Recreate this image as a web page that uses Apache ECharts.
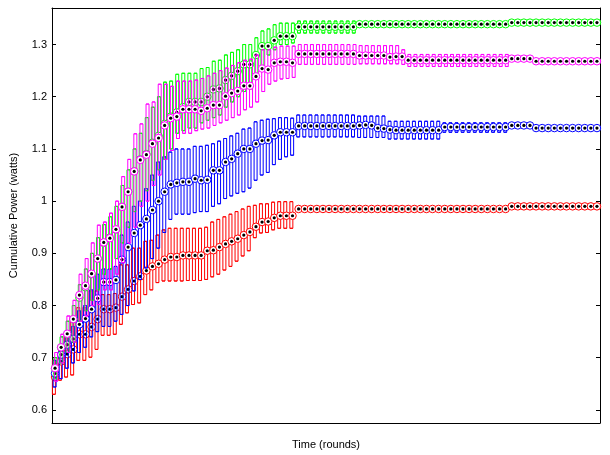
<!DOCTYPE html>
<html>
<head>
<meta charset="utf-8">
<script src="https://cdn.jsdelivr.net/npm/echarts@6/dist/echarts.min.js"></script>
<style>
  html, body { margin: 0; padding: 0; background: #fff; }
  #chart { width: 610px; height: 455px; }
</style>
</head>
<body>
<div id="chart"></div>
<script>
// Cumulative power per round: lower quartile, median, upper quartile for each of four runs.
const redQ1 = [
  0.630, 0.657, 0.663, 0.667, 0.695, 0.695, 0.701, 0.716, 0.743, 0.743,
  0.745, 0.764, 0.786, 0.802, 0.805, 0.821, 0.830, 0.844, 0.847, 0.847,
  0.847, 0.847, 0.848, 0.848, 0.848, 0.850, 0.855, 0.860, 0.868, 0.875,
  0.885, 0.895, 0.905, 0.930, 0.939, 0.940, 0.945, 0.948, 0.948, 0.948,
  0.985, 0.985, 0.985, 0.985, 0.985, 0.985, 0.985, 0.985, 0.985, 0.985,
  0.985, 0.985, 0.985, 0.985, 0.985, 0.985, 0.985, 0.985, 0.985, 0.985,
  0.985, 0.985, 0.985, 0.985, 0.985, 0.985, 0.985, 0.985, 0.985, 0.985,
  0.985, 0.985, 0.985, 0.985, 0.985, 0.990, 0.990, 0.990, 0.990, 0.990,
  0.990, 0.990, 0.990, 0.990, 0.990, 0.990, 0.990, 0.990, 0.990, 0.990
];
const redMed = [
  0.663, 0.693, 0.707, 0.716, 0.745, 0.745, 0.759, 0.774, 0.793, 0.793,
  0.796, 0.817, 0.831, 0.847, 0.856, 0.867, 0.875, 0.880, 0.888, 0.893,
  0.893, 0.896, 0.896, 0.896, 0.896, 0.905, 0.906, 0.912, 0.918, 0.923,
  0.928, 0.935, 0.941, 0.951, 0.960, 0.961, 0.968, 0.972, 0.972, 0.972,
  0.985, 0.985, 0.985, 0.985, 0.985, 0.985, 0.985, 0.985, 0.985, 0.985,
  0.985, 0.985, 0.985, 0.985, 0.985, 0.985, 0.985, 0.985, 0.985, 0.985,
  0.985, 0.985, 0.985, 0.985, 0.985, 0.985, 0.985, 0.985, 0.985, 0.985,
  0.985, 0.985, 0.985, 0.985, 0.985, 0.990, 0.990, 0.990, 0.990, 0.990,
  0.990, 0.990, 0.990, 0.990, 0.990, 0.990, 0.990, 0.990, 0.990, 0.990
];
const redQ3 = [
  0.695, 0.720, 0.745, 0.771, 0.796, 0.796, 0.828, 0.828, 0.821, 0.821,
  0.823, 0.878, 0.878, 0.910, 0.910, 0.923, 0.925, 0.935, 0.945, 0.948,
  0.948, 0.948, 0.948, 0.948, 0.948, 0.950, 0.960, 0.965, 0.970, 0.975,
  0.980, 0.985, 0.990, 0.992, 0.995, 0.995, 0.998, 0.999, 0.999, 0.999,
  0.985, 0.985, 0.985, 0.985, 0.985, 0.985, 0.985, 0.985, 0.985, 0.985,
  0.985, 0.985, 0.985, 0.985, 0.985, 0.985, 0.985, 0.985, 0.985, 0.985,
  0.985, 0.985, 0.985, 0.985, 0.985, 0.985, 0.985, 0.985, 0.985, 0.985,
  0.985, 0.985, 0.985, 0.985, 0.985, 0.990, 0.990, 0.990, 0.990, 0.990,
  0.990, 0.990, 0.990, 0.990, 0.990, 0.990, 0.990, 0.990, 0.990, 0.990
];

const blueQ1 = [
  0.644, 0.660, 0.680, 0.690, 0.710, 0.720, 0.740, 0.750, 0.760, 0.760,
  0.770, 0.783, 0.800, 0.828, 0.850, 0.872, 0.890, 0.910, 0.940, 0.965,
  0.975, 0.975, 0.975, 0.978, 0.980, 0.980, 0.990, 0.995, 1.005, 1.010,
  1.015, 1.018, 1.025, 1.040, 1.050, 1.055, 1.070, 1.080, 1.085, 1.088,
  1.123, 1.123, 1.123, 1.123, 1.123, 1.123, 1.123, 1.123, 1.123, 1.123,
  1.122, 1.122, 1.122, 1.122, 1.122, 1.119, 1.119, 1.119, 1.119, 1.119,
  1.119, 1.119, 1.119, 1.119, 1.132, 1.132, 1.132, 1.132, 1.132, 1.132,
  1.132, 1.132, 1.132, 1.132, 1.132, 1.145, 1.145, 1.145, 1.145, 1.140,
  1.140, 1.140, 1.140, 1.140, 1.140, 1.140, 1.140, 1.140, 1.140, 1.140
];
const blueMed = [
  0.670, 0.706, 0.725, 0.736, 0.764, 0.775, 0.793, 0.814, 0.845, 0.845,
  0.849, 0.888, 0.912, 0.939, 0.954, 0.966, 0.983, 1.000, 1.018, 1.032,
  1.035, 1.037, 1.037, 1.043, 1.040, 1.041, 1.059, 1.059, 1.075, 1.081,
  1.091, 1.100, 1.100, 1.110, 1.116, 1.117, 1.126, 1.132, 1.132, 1.132,
  1.144, 1.144, 1.144, 1.144, 1.144, 1.144, 1.144, 1.144, 1.144, 1.144,
  1.145, 1.146, 1.145, 1.140, 1.139, 1.137, 1.136, 1.136, 1.136, 1.136,
  1.136, 1.136, 1.136, 1.136, 1.142, 1.142, 1.142, 1.142, 1.142, 1.142,
  1.142, 1.142, 1.142, 1.142, 1.142, 1.145, 1.145, 1.145, 1.145, 1.140,
  1.140, 1.140, 1.140, 1.140, 1.140, 1.140, 1.140, 1.140, 1.140, 1.140
];
const blueQ3 = [
  0.695, 0.720, 0.740, 0.760, 0.790, 0.800, 0.830, 0.860, 0.870, 0.870,
  0.875, 0.935, 0.960, 0.990, 1.000, 1.024, 1.050, 1.075, 1.085, 1.094,
  1.100, 1.100, 1.100, 1.105, 1.105, 1.107, 1.110, 1.115, 1.120, 1.125,
  1.130, 1.138, 1.140, 1.152, 1.155, 1.157, 1.158, 1.160, 1.160, 1.159,
  1.165, 1.165, 1.165, 1.165, 1.165, 1.165, 1.165, 1.165, 1.165, 1.165,
  1.163, 1.163, 1.163, 1.163, 1.163, 1.153, 1.153, 1.153, 1.153, 1.153,
  1.153, 1.153, 1.153, 1.153, 1.150, 1.150, 1.150, 1.150, 1.150, 1.150,
  1.150, 1.150, 1.150, 1.150, 1.150, 1.145, 1.145, 1.145, 1.145, 1.140,
  1.140, 1.140, 1.140, 1.140, 1.140, 1.140, 1.140, 1.140, 1.140, 1.140
];

const magentaQ1 = [
  0.655, 0.690, 0.710, 0.730, 0.770, 0.780, 0.800, 0.802, 0.830, 0.830,
  0.860, 0.882, 0.920, 0.950, 0.990, 1.000, 1.030, 1.050, 1.080, 1.097,
  1.120, 1.130, 1.130, 1.135, 1.138, 1.140, 1.145, 1.150, 1.155, 1.160,
  1.165, 1.175, 1.180, 1.190, 1.210, 1.224, 1.230, 1.234, 1.235, 1.237,
  1.262, 1.262, 1.262, 1.262, 1.262, 1.262, 1.262, 1.262, 1.262, 1.262,
  1.263, 1.263, 1.263, 1.263, 1.263, 1.263, 1.263, 1.262, 1.258, 1.258,
  1.258, 1.258, 1.258, 1.258, 1.258, 1.258, 1.258, 1.258, 1.258, 1.258,
  1.258, 1.258, 1.258, 1.258, 1.258, 1.273, 1.273, 1.273, 1.273, 1.268,
  1.268, 1.268, 1.268, 1.268, 1.268, 1.268, 1.268, 1.268, 1.268, 1.268
];
const magentaMed = [
  0.680, 0.720, 0.746, 0.774, 0.820, 0.838, 0.861, 0.890, 0.921, 0.929,
  0.946, 0.989, 1.018, 1.057, 1.079, 1.089, 1.110, 1.121, 1.145, 1.159,
  1.162, 1.176, 1.176, 1.176, 1.173, 1.178, 1.184, 1.184, 1.201, 1.207,
  1.211, 1.221, 1.221, 1.239, 1.254, 1.252, 1.265, 1.267, 1.267, 1.265,
  1.282, 1.282, 1.282, 1.282, 1.282, 1.282, 1.282, 1.282, 1.282, 1.282,
  1.279, 1.279, 1.279, 1.279, 1.279, 1.276, 1.277, 1.277, 1.270, 1.270,
  1.270, 1.270, 1.270, 1.270, 1.270, 1.270, 1.270, 1.270, 1.270, 1.270,
  1.270, 1.270, 1.270, 1.270, 1.270, 1.273, 1.273, 1.273, 1.273, 1.268,
  1.268, 1.268, 1.268, 1.268, 1.268, 1.268, 1.268, 1.268, 1.268, 1.268
];
const magentaQ3 = [
  0.710, 0.745, 0.780, 0.810, 0.860, 0.890, 0.920, 0.954, 0.960, 0.977,
  1.000, 1.047, 1.080, 1.129, 1.148, 1.186, 1.190, 1.224, 1.224, 1.220,
  1.230, 1.230, 1.230, 1.232, 1.235, 1.240, 1.245, 1.250, 1.255, 1.260,
  1.265, 1.270, 1.272, 1.280, 1.290, 1.290, 1.295, 1.297, 1.297, 1.297,
  1.300, 1.300, 1.300, 1.300, 1.300, 1.300, 1.300, 1.300, 1.300, 1.300,
  1.298, 1.298, 1.298, 1.298, 1.298, 1.298, 1.298, 1.290, 1.281, 1.281,
  1.281, 1.281, 1.281, 1.281, 1.281, 1.281, 1.281, 1.281, 1.281, 1.281,
  1.281, 1.281, 1.281, 1.281, 1.281, 1.273, 1.273, 1.273, 1.273, 1.268,
  1.268, 1.268, 1.268, 1.268, 1.268, 1.268, 1.268, 1.268, 1.268, 1.268
];

const greenQ1 = [
  0.660, 0.690, 0.710, 0.730, 0.770, 0.790, 0.810, 0.830, 0.860, 0.870,
  0.890, 0.920, 0.950, 0.980, 1.000, 1.020, 1.040, 1.060, 1.080, 1.100,
  1.130, 1.135, 1.140, 1.140, 1.150, 1.155, 1.160, 1.165, 1.180, 1.190,
  1.200, 1.210, 1.215, 1.240, 1.260, 1.280, 1.290, 1.300, 1.300, 1.303,
  1.322, 1.322, 1.322, 1.322, 1.322, 1.322, 1.322, 1.322, 1.322, 1.322,
  1.339, 1.339, 1.339, 1.339, 1.339, 1.339, 1.339, 1.339, 1.339, 1.339,
  1.339, 1.339, 1.339, 1.339, 1.339, 1.339, 1.339, 1.339, 1.339, 1.339,
  1.339, 1.339, 1.339, 1.339, 1.339, 1.342, 1.342, 1.342, 1.342, 1.342,
  1.342, 1.342, 1.342, 1.342, 1.342, 1.342, 1.342, 1.342, 1.342, 1.342
];
const greenMed = [
  0.680, 0.720, 0.745, 0.774, 0.815, 0.835, 0.860, 0.890, 0.920, 0.930,
  0.946, 0.989, 1.018, 1.057, 1.080, 1.090, 1.112, 1.125, 1.148, 1.162,
  1.170, 1.180, 1.190, 1.190, 1.190, 1.200, 1.214, 1.216, 1.232, 1.240,
  1.249, 1.262, 1.262, 1.280, 1.297, 1.297, 1.308, 1.316, 1.316, 1.316,
  1.334, 1.334, 1.334, 1.334, 1.334, 1.334, 1.334, 1.334, 1.334, 1.334,
  1.339, 1.339, 1.339, 1.339, 1.339, 1.339, 1.339, 1.339, 1.339, 1.339,
  1.339, 1.339, 1.339, 1.339, 1.339, 1.339, 1.339, 1.339, 1.339, 1.339,
  1.339, 1.339, 1.339, 1.339, 1.339, 1.342, 1.342, 1.342, 1.342, 1.342,
  1.342, 1.342, 1.342, 1.342, 1.342, 1.342, 1.342, 1.342, 1.342, 1.342
];
const greenQ3 = [
  0.700, 0.740, 0.770, 0.800, 0.840, 0.870, 0.900, 0.930, 0.955, 0.970,
  0.990, 1.030, 1.060, 1.100, 1.130, 1.160, 1.180, 1.200, 1.228, 1.230,
  1.243, 1.245, 1.245, 1.245, 1.254, 1.256, 1.268, 1.270, 1.280, 1.285,
  1.290, 1.300, 1.300, 1.313, 1.326, 1.330, 1.338, 1.341, 1.341, 1.341,
  1.345, 1.345, 1.345, 1.345, 1.345, 1.345, 1.345, 1.345, 1.345, 1.345,
  1.339, 1.339, 1.339, 1.339, 1.339, 1.339, 1.339, 1.339, 1.339, 1.339,
  1.339, 1.339, 1.339, 1.339, 1.339, 1.339, 1.339, 1.339, 1.339, 1.339,
  1.339, 1.339, 1.339, 1.339, 1.339, 1.342, 1.342, 1.342, 1.342, 1.342,
  1.342, 1.342, 1.342, 1.342, 1.342, 1.342, 1.342, 1.342, 1.342, 1.342
];

const yTicks = [0.6, 0.7, 0.8, 0.9, 1.0, 1.1, 1.2, 1.3];
const rounds = redMed.map((_, i) => String(i + 1));

const FONT = '"Liberation Sans", Arial, Helvetica, sans-serif';

// Draw order: later runs sit on top of earlier ones.
const runs = [
  { name: 'red',     color: '#ff0000', q1: redQ1,     med: redMed,     q3: redQ3 },
  { name: 'blue',    color: '#0000ff', q1: blueQ1,    med: blueMed,    q3: blueQ3 },
  { name: 'green',   color: '#00ff00', q1: greenQ1,   med: greenMed,   q3: greenQ3 },
  { name: 'magenta', color: '#ff00ff', q1: magentaQ1, med: magentaMed, q3: magentaQ3 }
];

const series = [];
runs.forEach(run => {
  // Boxes only (no whiskers): whisker ends coincide with the quartiles.
  series.push({
    type: 'boxplot',
    name: run.name + ' box',
    data: run.med.map((m, i) => [run.q1[i], run.q1[i], m, run.q3[i], run.q3[i]]),
    boxWidth: [3, 3],
    itemStyle: { color: 'rgba(0,0,0,0)', borderColor: run.color, borderWidth: 1 },
    emphasis: { disabled: true },
    silent: true,
    animation: false
  });
  // Median marker: coloured ring with a white face ...
  series.push({
    type: 'scatter',
    name: run.name + ' median',
    data: run.med.map((m, i) => [i, m]),
    symbol: 'circle',
    symbolSize: 7.5,
    itemStyle: { color: '#ffffff', borderColor: run.color, borderWidth: 1, opacity: 1 },
    emphasis: { disabled: true },
    silent: true,
    animation: false
  });
  // ... and a black centre dot.
  series.push({
    type: 'scatter',
    name: run.name + ' median dot',
    data: run.med.map((m, i) => [i, m]),
    symbol: 'circle',
    symbolSize: 3.2,
    itemStyle: { color: '#000000', opacity: 1 },
    emphasis: { disabled: true },
    silent: true,
    animation: false
  });
});

const chart = echarts.init(document.getElementById('chart'), null, { renderer: 'canvas' });
chart.setOption({
  animation: false,
  backgroundColor: '#ffffff',
  grid: { left: 52, right: 10, top: 8, bottom: 29, containLabel: false },
  xAxis: [
    {
      type: 'category',
      data: rounds,
      boundaryGap: true,
      position: 'bottom',
      name: 'Time (rounds)',
      nameLocation: 'middle',
      nameGap: 16,
      nameTextStyle: { fontFamily: FONT, fontSize: 11, color: '#000' },
      axisLine: { show: true, onZero: false, lineStyle: { color: '#000', width: 1 } },
      axisTick: { show: false },
      axisLabel: { show: false },
      splitLine: { show: false }
    },
    {
      type: 'category',
      data: rounds,
      boundaryGap: true,
      position: 'top',
      axisLine: { show: true, onZero: false, lineStyle: { color: '#000', width: 1 } },
      axisTick: { show: false },
      axisLabel: { show: false },
      splitLine: { show: false }
    }
  ],
  yAxis: [
    {
      type: 'value',
      min: 0.575,
      max: 1.37,
      position: 'left',
      name: 'Cumulative Power (watts)',
      nameLocation: 'middle',
      nameGap: 33,
      nameRotate: 90,
      nameTextStyle: { fontFamily: FONT, fontSize: 11, color: '#000' },
      axisLine: { show: true, onZero: false, lineStyle: { color: '#000', width: 1 } },
      axisTick: { show: true, inside: true, length: 4, customValues: yTicks, lineStyle: { color: '#000', width: 1 } },
      axisLabel: {
        show: true,
        customValues: yTicks,
        margin: 5,
        fontFamily: FONT,
        fontSize: 11,
        color: '#000',
        formatter: v => String(Number(Number(v).toFixed(1)))
      },
      splitLine: { show: false }
    },
    {
      type: 'value',
      min: 0.575,
      max: 1.37,
      position: 'right',
      axisLine: { show: true, onZero: false, lineStyle: { color: '#000', width: 1 } },
      axisTick: { show: true, inside: true, length: 4, customValues: yTicks, lineStyle: { color: '#000', width: 1 } },
      axisLabel: { show: false },
      splitLine: { show: false }
    }
  ],
  tooltip: { show: false },
  series: series
});
</script>
</body>
</html>
